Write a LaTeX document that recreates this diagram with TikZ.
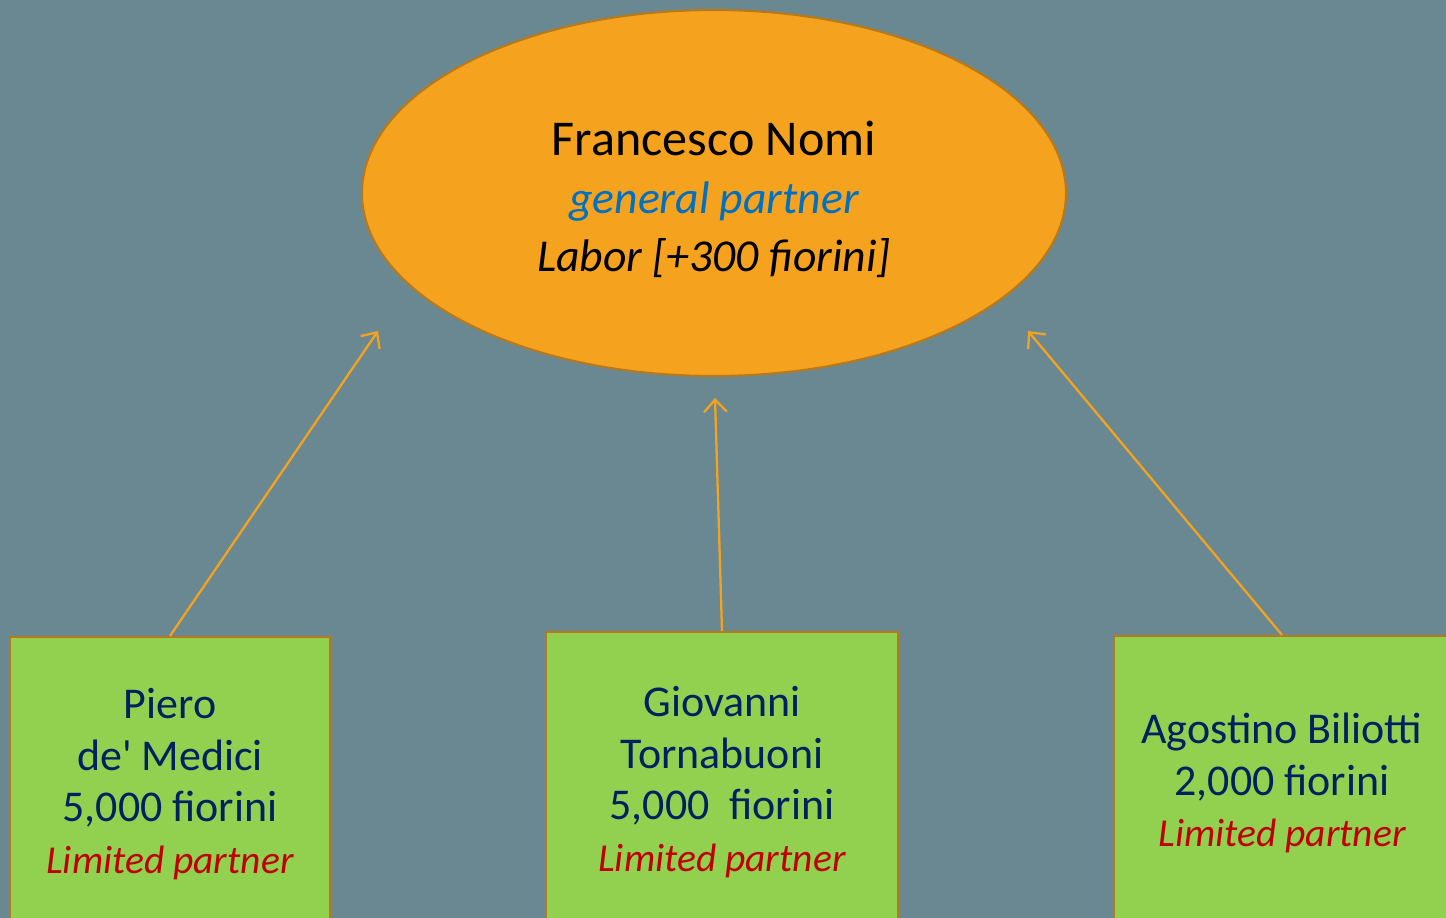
\documentclass[tikz,border=0pt]{standalone}
\usepackage{fontspec}
\setmainfont{Carlito}[Ligatures=TeXOff]
\usetikzlibrary{arrows.meta,positioning,shapes.geometric}
\definecolor{fnslate} {HTML}{6A8891}
\definecolor{fnorange}{HTML}{F5A31F}
\definecolor{fnrim}   {HTML}{B8791A}
\definecolor{fngreen} {HTML}{92D050}
\definecolor{fnnavy}  {HTML}{002060}
\definecolor{fnred}   {HTML}{C00000}
\definecolor{fnblue}  {HTML}{0070C0}
\newcommand\fnitbig{\fontsize{26}{33}\selectfont\itshape}
\newcommand\fnitsmall{\fontsize{22.5}{29.3}\selectfont\itshape}
\tikzset{
  fnboss/.style={ellipse, draw=fnrim, line width=1.2pt, fill=fnorange,
                 minimum width=14.08cm, minimum height=7.32cm, inner sep=0pt,
                 align=center, font=\fontsize{28.5}{33}\selectfont},
  fnbox/.style={rectangle, draw=fnrim, line width=1.2pt, fill=fngreen,
                minimum height=5.88cm, inner sep=0pt, align=center,
                text=fnnavy, font=\fontsize{25}{29.3}\selectfont},
  fnedge/.style={-{Straight Barb[length=7pt,width=13pt]}, draw=fnorange,
                 line width=1.3pt},
}

\begin{document}
\begin{tikzpicture}
  \useasboundingbox (0,0) rectangle (28.92,-18.36);
  \fill[fnslate] (0,0) rectangle (28.92,-18.36);
  \clip (0,0) rectangle (28.92,-18.36);

  \node[fnboss] (nomi) at (14.28,-3.86)
    {\rule{0pt}{0.95cm}Francesco Nomi\\ \textcolor{fnblue}{\fnitbig general partner}\\ \fnitbig Labor [+300 fiorini]};

  \node[fnbox, minimum width=6.4cm] (piero) at (3.4,-15.68)
    {Piero\\ de' Medici\\ 5,000 fiorini\\ \textcolor{fnred}{\fnitsmall Limited partner}};
  \node[fnbox, minimum width=7.04cm, minimum height=6.0cm] (giovanni) at (14.44,-15.64)
    {Giovanni\\ Tornabuoni\\ 5,000\ \ fiorini\\ \textcolor{fnred}{\fnitsmall Limited partner}};
  \node[fnbox, minimum width=6.72cm] (agostino) at (25.64,-15.66)
    {Agostino Biliotti\\ 2,000 fiorini\\ \textcolor{fnred}{\fnitsmall Limited partner}};

  \coordinate (tipL) at (7.56,-6.62);
  \coordinate (tipM) at (14.30,-7.96);
  \coordinate (tipR) at (20.56,-6.62);

  \draw[fnedge] (piero.north) -- (tipL);
  \draw[fnedge] (giovanni.north) -- (tipM);
  \draw[fnedge] (agostino.north) -- (tipR);
\end{tikzpicture}
\end{document}
